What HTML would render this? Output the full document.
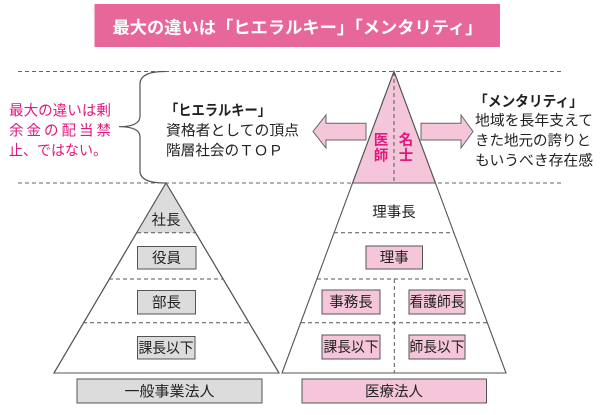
<!DOCTYPE html>
<html><head><meta charset="utf-8"><style>
html,body{margin:0;padding:0;background:#fff;}
svg{display:block;}
text{font-family:"Liberation Sans","Noto Sans CJK JP",sans-serif;}
</style></head><body>
<svg width="600" height="415" viewBox="0 0 600 415" xmlns="http://www.w3.org/2000/svg">
<rect x="0" y="0" width="600" height="415" fill="#fff"/>
<!-- title -->
<rect x="94.5" y="4" width="405.5" height="43" fill="#e8679b"/>
<text x="112.5" y="33.5" font-size="17" font-weight="bold" fill="#fff" textLength="370" lengthAdjust="spacingAndGlyphs">最大の違いは「ヒエラルキー」「メンタリティ」</text>

<!-- dashed guide lines -->
<line x1="18" y1="71.5" x2="563" y2="71.5" stroke="#666" stroke-width="1" stroke-dasharray="4,3"/>
<line x1="18" y1="183" x2="563" y2="183" stroke="#666" stroke-width="1" stroke-dasharray="4,3"/>

<!-- left pink text -->
<g font-size="14.5" fill="#e0197d">
<text x="9" y="115.5" textLength="102" lengthAdjust="spacingAndGlyphs">最大の違いは剰</text>
<text x="9" y="135.5" textLength="102" lengthAdjust="spacing">余金の配当禁</text>
<text x="9" y="155.5" textLength="98" lengthAdjust="spacingAndGlyphs">止、ではない。</text>
</g>

<!-- brace -->
<path d="M165,71.5 Q140,71.5 140,84 L140,116 Q140,126.7 119,126.7 Q140,126.7 140,137 L140,171 Q140,183 165,183" fill="none" stroke="#555" stroke-width="1.2"/>

<!-- middle text -->
<g font-size="14.5" fill="#222">
<text x="165" y="115.5" font-weight="bold" textLength="106" lengthAdjust="spacingAndGlyphs">「ヒエラルキー」</text>
<text x="166" y="135.5" textLength="133" lengthAdjust="spacingAndGlyphs">資格者としての頂点</text>
<text x="166" y="155.5" textLength="117" lengthAdjust="spacingAndGlyphs">階層社会のＴＯＰ</text>
</g>

<!-- right text -->
<g font-size="14.5" fill="#222">
<text x="474" y="106.5" font-weight="bold" textLength="109" lengthAdjust="spacingAndGlyphs">「メンタリティ」</text>
<text x="475" y="125.5" textLength="118" lengthAdjust="spacingAndGlyphs">地域を長年支えて</text>
<text x="475" y="145.5" textLength="116" lengthAdjust="spacingAndGlyphs">きた地元の誇りと</text>
<text x="475" y="165.5" textLength="118" lengthAdjust="spacingAndGlyphs">もいうべき存在感</text>
</g>

<!-- arrows -->
<polygon points="313,131.5 326,115 326,123.3 366,123.3 366,140 326,140 326,148" fill="#f5c6d9" stroke="#666" stroke-width="1"/>
<polygon points="421,123.3 461,123.3 461,115 473,131.5 461,148 461,140 421,140" fill="#f5c6d9" stroke="#666" stroke-width="1"/>

<!-- LEFT PYRAMID -->
<polygon points="166,183 54,373 279,373" fill="#fff" stroke="#555" stroke-width="1.1"/>
<polygon points="166,183 136.6,232.7 195.4,232.7" fill="#dcdcdc"/>
<line x1="166" y1="183" x2="54" y2="373" stroke="#555" stroke-width="1.1"/>
<line x1="166" y1="183" x2="279" y2="373" stroke="#555" stroke-width="1.1"/>
<g stroke="#555" stroke-width="1" stroke-dasharray="4,3">
<line x1="137" y1="232.7" x2="196" y2="232.7"/>
<line x1="109" y1="279" x2="223" y2="279"/>
<line x1="83" y1="322.7" x2="249" y2="322.7"/>
</g>
<g fill="#dcdcdc" stroke="#555" stroke-width="1">
<rect x="137.5" y="246.5" width="58.5" height="22.5"/>
<rect x="137.5" y="290.5" width="58" height="23.5"/>
<rect x="137.5" y="336.5" width="57.5" height="22.5"/>
<rect x="77" y="379" width="185" height="24"/>
</g>
<g font-size="14.5" fill="#222" text-anchor="middle">
<text x="166" y="225">社長</text>
<text x="166.5" y="263">役員</text>
<text x="166.5" y="307.5">部長</text>
<text x="166" y="353" textLength="55" lengthAdjust="spacingAndGlyphs">課長以下</text>
<text x="169.5" y="396.5" textLength="90" lengthAdjust="spacingAndGlyphs">一般事業法人</text>
</g>

<!-- RIGHT PYRAMID -->
<polygon points="394,71.5 282,373 506,373" fill="#fff" stroke="#555" stroke-width="1.1"/>
<polygon points="394,71.5 352.6,183 435.4,183" fill="#f5c6d9" stroke="#555" stroke-width="1.1"/>
<g stroke="#555" stroke-width="1" stroke-dasharray="4,3">
<line x1="394" y1="72" x2="394" y2="183"/>
<line x1="334" y1="232.7" x2="454" y2="232.7"/>
<line x1="317" y1="279" x2="471" y2="279"/>
<line x1="301" y1="322.7" x2="487" y2="322.7"/>
<line x1="394.3" y1="279" x2="394.3" y2="373"/>
</g>
<g font-size="14.5" font-weight="bold" fill="#e0197d" text-anchor="middle">
<text x="381" y="145">医</text>
<text x="381" y="160.5">師</text>
<text x="406" y="145">名</text>
<text x="406" y="160.5">士</text>
</g>
<g fill="#f5c6d9" stroke="#555" stroke-width="1">
<rect x="366" y="246" width="56.5" height="23"/>
<rect x="322" y="290" width="58" height="24"/>
<rect x="409" y="290" width="56" height="24"/>
<rect x="322" y="335" width="58" height="24"/>
<rect x="409" y="335" width="56" height="24"/>
<rect x="302" y="379" width="184.5" height="24"/>
</g>
<g font-size="14.5" fill="#222" text-anchor="middle">
<text x="394" y="217">理事長</text>
<text x="394.3" y="262.5">理事</text>
<text x="351" y="307">事務長</text>
<text x="437" y="307" textLength="55" lengthAdjust="spacingAndGlyphs">看護師長</text>
<text x="351" y="352" textLength="55" lengthAdjust="spacingAndGlyphs">課長以下</text>
<text x="437" y="352" textLength="55" lengthAdjust="spacingAndGlyphs">師長以下</text>
<text x="394" y="396.5">医療法人</text>
</g>
</svg>
</body></html>
